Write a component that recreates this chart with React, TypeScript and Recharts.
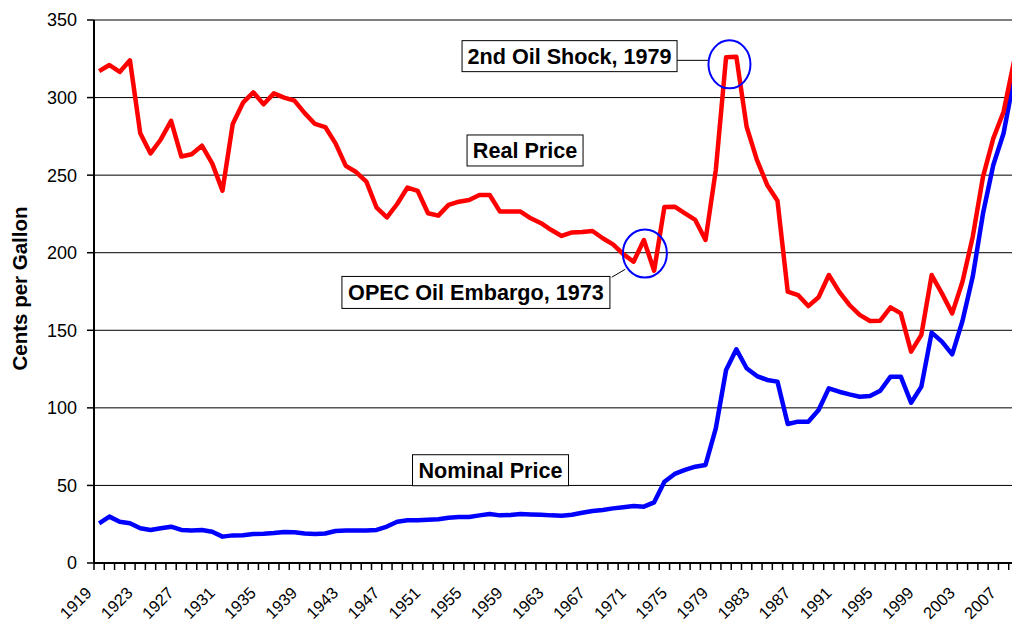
import React from "react";
import { LineChart, Line, XAxis, YAxis, CartesianGrid, ReferenceDot, ReferenceLine, Label } from "recharts";

const FONT = "'Liberation Sans', Arial, sans-serif";

// years shown on the category axis
const years = Array.from({ length: 90 }, (_, i) => 1919 + i);

// cents per gallon, real (inflation adjusted)
const realPrice = [
  317, 321, 316.5, 324, 277, 264, 273, 285, 262, 263.5,
  269, 257.6, 240, 283, 296.7, 303.4, 295.7, 302.7, 300, 298,
  290, 283, 281, 270.5, 256, 252, 245.8, 229, 222.8, 231.4,
  242, 239.8, 225.4, 223.9, 230.8, 232.9, 234, 237.2, 237.2, 226.5,
  226.5, 226.5, 222.2, 219, 214.6, 210.8, 213.1, 213.3, 214, 209.3,
  205.4, 199.1, 194.2, 208.2, 188.4, 229.5, 229.7, 225.4, 221.1, 208.2,
  253.3, 326, 326.3, 281.2, 259.8, 243.7, 233.5, 174.9, 172.7, 165.6,
  171.3, 185.6, 174.9, 166.3, 159.9, 156, 156.2, 164.8, 160.9, 136.2,
  147, 185.6, 173.8, 160.9, 181.3, 210.3, 249, 273.7, 290.9, 323,
];

// cents per gallon, nominal
const nominalPrice = [
  25.6, 29.9, 26.6, 25.6, 22.4, 21.3, 22.4, 23.4, 21.3, 20.9,
  21.3, 20.2, 17, 17.8, 17.9, 18.7, 18.9, 19.3, 20, 19.8,
  19, 18.7, 19, 20.6, 20.9, 20.9, 20.9, 21.3, 23.5, 26.6,
  27.5, 27.5, 27.9, 28.2, 29.2, 29.6, 29.6, 30.7, 31.6, 30.7,
  30.9, 31.6, 31.3, 31.1, 30.7, 30.5, 31.1, 32.4, 33.5, 34.2,
  35.2, 36, 36.7, 36.3, 39.1, 52.4, 57.4, 60, 62.1, 63.2,
  86.8, 124.4, 137.7, 125.5, 120.5, 118, 116.9, 89.6, 91.1, 91,
  98.6, 112.6, 110.4, 108.7, 107.2, 107.7, 111, 120.1, 120.1, 103.3,
  113.7, 148.5, 142.7, 134.5, 156, 184.6, 225.4, 256.5, 277, 312,
];

const yTicks = [0, 50, 100, 150, 200, 250, 300, 350];

const data = years.map((year, i) => ({ year, real: realPrice[i], nominal: nominalPrice[i] }));

const CHART_W = 1019;
const CHART_H = 622;
const Y_AXIS_W = 94;
const BAND = (CHART_W - Y_AXIS_W) / years.length;

function YearTick(props: any) {
  const { x, y, payload } = props;
  const left = x - BAND / 2;
  const showLabel = (payload.value - 1919) % 4 === 0;
  const lx = x - 6.5;
  const ly = y + 31;
  return (
    <g>
      <line x1={left} x2={left} y1={y} y2={y + 7} stroke="#000" strokeWidth={1.5} />
      {showLabel && (
        <text x={lx} y={ly} textAnchor="end" fontSize={16.5} fill="#000" fontFamily={FONT}
          transform={`rotate(-45 ${lx} ${ly})`}>
          {payload.value}
        </text>
      )}
    </g>
  );
}

function boxLabel(text: string, w: number, h: number) {
  return (p: any) => (
    <g>
      <rect x={p.cx - w / 2} y={p.cy - h / 2} width={w} height={h} fill="#fff" stroke="#000" strokeWidth={1} />
      <text x={p.cx} y={p.cy} dy="0.36em" textAnchor="middle" fontSize={21.6} fontWeight="bold"
        fontFamily={FONT} fill="#000">
        {text}
      </text>
    </g>
  );
}

function ring(rx: number, ry: number) {
  return (p: any) => (
    <ellipse cx={p.cx} cy={p.cy} rx={rx} ry={ry} fill="none" stroke="#0000ff" strokeWidth={2} />
  );
}

export default function App() {
  return (
    <div style={{ position: "fixed", left: 0, top: 0, width: 1012, height: 622, overflow: "hidden", background: "#fff", fontFamily: FONT }}>
      <LineChart width={CHART_W} height={CHART_H} data={data} margin={{ top: 20, right: 0, left: 0, bottom: 0 }}>
        <CartesianGrid horizontal vertical={false} stroke="#000" strokeWidth={1} />
        <XAxis
          dataKey="year"
          type="number"
          domain={[1918.5, 2008.5]}
          ticks={years}
          interval={0}
          tickLine={false}
          tickSize={0}
          tickMargin={0}
          height={59}
          axisLine={{ stroke: "#000", strokeWidth: 2 }}
          tick={<YearTick />}
        />
        <YAxis
          domain={[0, 350]}
          ticks={yTicks}
          width={Y_AXIS_W}
          tickSize={7}
          tickMargin={10}
          axisLine={{ stroke: "#000", strokeWidth: 2 }}
          tickLine={{ stroke: "#000", strokeWidth: 1.5 }}
          tick={{ fontSize: 18, fill: "#000", fontFamily: FONT }}
        >
          <Label
            content={(p: any) => {
              const vb = p.viewBox;
              const cx = vb.x + 20;
              const cy = vb.y + vb.height / 2 - 3;
              return (
                <text x={cx} y={cy} dy="0.36em" textAnchor="middle" fontSize={20.5} fontWeight="bold"
                  fontFamily={FONT} fill="#000" transform={`rotate(-90 ${cx} ${cy})`}>
                  Cents per Gallon
                </text>
              );
            }}
          />
        </YAxis>
        <Line type="linear" dataKey="nominal" stroke="#0000ff" strokeWidth={4.5} dot={false}
          strokeLinejoin="round" isAnimationActive={false} />
        <Line type="linear" dataKey="real" stroke="#ff0000" strokeWidth={4.5} dot={false}
          strokeLinejoin="round" isAnimationActive={false} />
        <ReferenceLine segment={[{ x: 1975.24, y: 324 }, { x: 1978.26, y: 324 }]} stroke="#000" strokeWidth={1} />
        <ReferenceLine segment={[{ x: 1968.88, y: 184.2 }, { x: 1970.18, y: 189.3 }]} stroke="#000" strokeWidth={1} />
        <ReferenceDot x={1980.33} y={321.4} r={22} shape={ring(21, 24)} ifOverflow="visible" />
        <ReferenceDot x={1972.1} y={199.5} r={22} shape={ring(22, 24)} ifOverflow="visible" />
        <ReferenceDot x={1964.77} y={326.7} r={1} shape={boxLabel("2nd Oil Shock, 1979", 215, 31)} ifOverflow="visible" />
        <ReferenceDot x={1960.44} y={265.9} r={1} shape={boxLabel("Real Price", 116, 31)} ifOverflow="visible" />
        <ReferenceDot x={1955.66} y={174.4} r={1} shape={boxLabel("OPEC Oil Embargo, 1973", 268, 32)} ifOverflow="visible" />
        <ReferenceDot x={1957.08} y={59.8} r={1} shape={boxLabel("Nominal Price", 156, 31)} ifOverflow="visible" />
      </LineChart>
    </div>
  );
}
